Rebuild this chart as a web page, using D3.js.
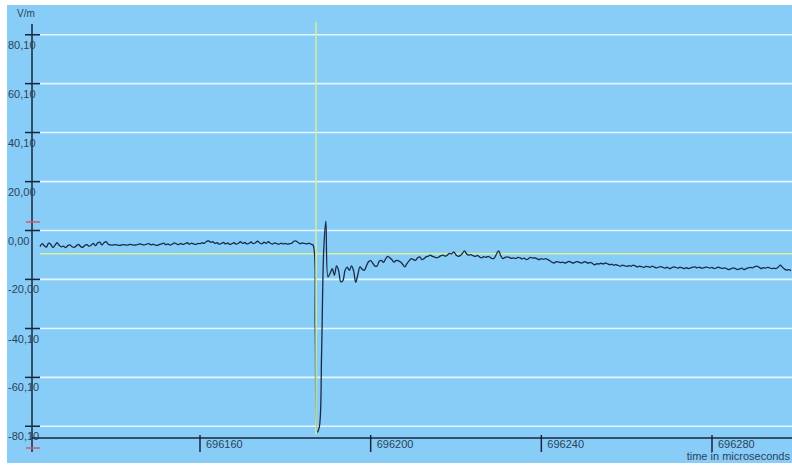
<!DOCTYPE html>
<html>
<head>
<meta charset="utf-8">
<script src="https://cdn.jsdelivr.net/npm/d3@7/dist/d3.min.js"></script>
<style>
  html, body { margin: 0; padding: 0; background: #ffffff; }
  svg { display: block; }
  text { font-family: "Liberation Sans", Arial, sans-serif; }
</style>
</head>
<body>
<svg id="chart" width="792" height="465"></svg>
<script>
// Electric field record, sampled every 0.5 µs starting at t0 (V/m)
const t0 = 696122.5;
const dt = 0.5;
const fieldStrength = [
  // pre-event baseline
  -6.6, -5.4, -6.2, -6.8, -5.2, -5.6, -6.9, -6.1, -5.0, -6.0,
  -6.7, -6.4, -7.0, -6.2, -5.9, -6.6, -6.9, -6.3, -5.7, -6.5,
  -6.9, -6.1, -5.8, -6.4, -6.0, -5.3, -6.2, -5.1, -4.8, -5.9,
  -5.0, -4.6, -5.6, -5.9, -6.0, -5.8, -5.9, -6.1, -6.0, -5.8,
  -5.9, -6.0, -5.7, -5.8, -6.0, -5.9, -5.7, -5.5, -5.8, -5.9,
  -5.6, -5.4, -5.9, -5.6, -6.0, -6.1, -5.7, -5.5, -5.2, -5.8,
  -5.5, -6.0, -5.6, -5.1, -5.5, -5.8, -5.3, -5.7, -5.4, -5.0,
  -5.6, -5.2, -5.5, -5.7, -5.3, -5.4, -5.0, -5.3, -4.5, -4.2,
  -4.8, -4.6, -5.3, -5.0, -5.6, -5.3, -4.9, -5.5, -5.1, -5.7,
  -5.4, -5.0, -5.6, -5.2, -4.6, -5.3, -4.9, -5.5, -5.2, -4.7,
  -5.4, -5.0, -4.4, -5.1, -5.5, -4.8, -5.3, -4.6, -5.2, -5.6,
  -5.1, -5.4, -5.6, -5.2, -5.5, -5.3, -5.6, -5.4, -5.2, -4.4,
  -4.3, -4.9, -5.4, -5.1, -5.3, -5.5, -5.2, -5.6, -6.0,
  // return stroke pulse
  -40.0, -82.5, -80.0, -50.0, -8.0, 3.8,
  // ringing after the pulse
  -19.0, -17.5, -15.6, -18.3, -14.5, -16.5, -21.0, -20.5, -16.3, -15.0,
  -16.3, -14.5, -16.5, -21.2, -18.0, -14.9, -15.8, -16.3, -14.5, -12.8,
  -12.3, -13.4, -14.6, -14.5, -12.6, -12.2, -13.0, -11.6, -10.6, -11.2,
  -12.0, -12.9, -12.2, -12.4, -12.9, -13.8, -14.9, -13.5, -12.4, -11.5,
  -11.9, -12.2, -11.2, -10.8, -11.9, -11.5, -10.8, -10.5, -10.1,
  // slow tail
  -10.6, -10.9, -11.2, -10.8, -10.3, -10.1, -10.5, -10.0, -9.4, -9.6,
  -8.8, -10.0, -10.6, -10.2, -9.4, -8.3, -9.6, -10.1, -9.9, -10.3,
  -10.6, -10.2, -10.8, -11.2, -10.7, -11.0, -10.6, -11.0, -11.5, -11.2,
  -9.6, -8.3, -10.4, -11.5, -11.0, -10.8, -11.0, -11.4, -11.2, -11.5,
  -11.0, -11.2, -11.6, -11.3, -11.9, -11.5, -11.0, -11.3, -11.2, -11.6,
  -11.9, -11.5, -11.8, -11.5, -11.9, -12.4, -13.0, -13.3, -12.7, -12.9,
  -13.1, -12.9, -13.3, -13.0, -12.6, -13.0, -13.3, -12.9, -12.7, -13.1,
  -13.3, -12.8, -12.9, -13.4, -13.0, -13.5, -14.0, -13.6, -13.7, -13.4,
  -13.7, -13.3, -13.6, -14.0, -13.8, -14.2, -14.0, -14.3, -14.6, -14.2,
  -14.4, -14.7, -14.4, -14.6, -14.2, -14.5, -14.9, -14.6, -14.8, -15.1,
  -14.7, -14.8, -15.0, -14.6, -15.0, -15.3, -15.0, -14.8, -15.1, -15.4,
  -15.0, -15.6, -15.3, -14.9, -15.1, -15.4, -15.0, -15.3, -15.6, -15.2,
  -15.6, -15.3, -15.0, -14.9, -15.3, -15.0, -15.4, -15.3, -15.0, -15.1,
  -15.4, -15.1, -15.6, -15.3, -15.0, -15.3, -15.5, -15.3, -15.7, -16.0,
  -15.6, -15.3, -15.6, -16.0, -15.7, -15.4, -16.0, -15.6, -15.3, -15.1,
  -15.3, -14.8, -14.6, -15.0, -15.6, -15.2, -15.4, -15.1, -15.3, -15.6,
  -15.4, -15.6, -15.0, -14.2, -15.0, -15.8, -16.2, -16.0, -16.4
];

// Axis ticks
const yTickValues = [80.1, 60.1, 40.1, 20.0, 0.0, -20.0, -40.1, -60.1, -80.1];
const xTickValues = [696160, 696200, 696240, 696280];

// Cursor positions and range markers
const cursorTime = 696187.2;
const cursorLevel = -9.5;
const rangeMarkers = [3.5, -89.0];

const yUnit = "V/m";
const xTitle = "time in microseconds";

const svg = d3.select("#chart");

const x = d3.scaleLinear().domain([696120.625, 696298.75]).range([32, 792]);
const y = d3.scaleLinear().domain([-84.9, 84.5]).range([438, 24]);

const axisColor = "#18263a";
const textColor = "#2b4258";

// plot background
svg.append("rect")
  .attr("x", 7).attr("y", 5)
  .attr("width", 785).attr("height", 458)
  .attr("fill", "#87cdf8");

// horizontal grid
svg.append("g").selectAll("line")
  .data(yTickValues).join("line")
  .attr("x1", 40).attr("x2", 792)
  .attr("y1", d => y(d)).attr("y2", d => y(d))
  .attr("stroke", "#e6f6ff")
  .attr("stroke-width", 1.6);

// horizontal level cursor
svg.append("line")
  .attr("x1", 40).attr("x2", 792)
  .attr("y1", y(cursorLevel)).attr("y2", y(cursorLevel))
  .attr("stroke", "#d9ef95").attr("stroke-width", 1.6);

// signal trace
const line = d3.line()
  .x((d, i) => x(t0 + i * dt))
  .y(d => y(d))
  .curve(d3.curveCatmullRom.alpha(0.5));

svg.append("path")
  .datum(fieldStrength)
  .attr("d", line)
  .attr("fill", "none")
  .attr("stroke", "#1b2a44")
  .attr("stroke-width", 1.3)
  .attr("stroke-linejoin", "round");

// vertical time cursor
svg.append("line")
  .attr("x1", x(cursorTime)).attr("x2", x(cursorTime))
  .attr("y1", 22).attr("y2", 434)
  .attr("stroke", "#d9ef95").attr("stroke-width", 1.6)
  .attr("opacity", 0.9);

// y axis
svg.append("line")
  .attr("x1", 32).attr("x2", 32)
  .attr("y1", 24).attr("y2", 452)
  .attr("stroke", axisColor).attr("stroke-width", 1.5);

svg.append("g").selectAll("line")
  .data(yTickValues).join("line")
  .attr("x1", 25).attr("x2", 40)
  .attr("y1", d => y(d)).attr("y2", d => y(d))
  .attr("stroke", axisColor).attr("stroke-width", 1.5);

svg.append("g").selectAll("line")
  .data(rangeMarkers).join("line")
  .attr("x1", 26).attr("x2", 40)
  .attr("y1", d => y(d)).attr("y2", d => y(d))
  .attr("stroke", "#cc5a72").attr("stroke-width", 1.5);

const fmt = d3.format(".2f");
svg.append("g").selectAll("text")
  .data(yTickValues).join("text")
  .attr("x", 8)
  .attr("y", d => y(d) + 14)
  .attr("font-size", 11)
  .attr("fill", textColor)
  .text(d => fmt(d).replace(".", ",").replace("−", "-"));

svg.append("text")
  .attr("x", 17).attr("y", 16.5)
  .attr("font-size", 10)
  .attr("fill", textColor)
  .text(yUnit);

// x axis
svg.append("line")
  .attr("x1", 32).attr("x2", 792)
  .attr("y1", 438).attr("y2", 438)
  .attr("stroke", axisColor).attr("stroke-width", 1.5);

svg.append("g").selectAll("line")
  .data(xTickValues).join("line")
  .attr("x1", d => x(d)).attr("x2", d => x(d))
  .attr("y1", 435).attr("y2", 452)
  .attr("stroke", axisColor).attr("stroke-width", 1.5);

svg.append("g").selectAll("text")
  .data(xTickValues).join("text")
  .attr("x", d => x(d) + 6)
  .attr("y", 448)
  .attr("font-size", 11)
  .attr("fill", textColor)
  .text(d => String(d));

svg.append("text")
  .attr("x", 790).attr("y", 460)
  .attr("text-anchor", "end")
  .attr("font-size", 11)
  .attr("fill", textColor)
  .text(xTitle);
</script>
</body>
</html>
